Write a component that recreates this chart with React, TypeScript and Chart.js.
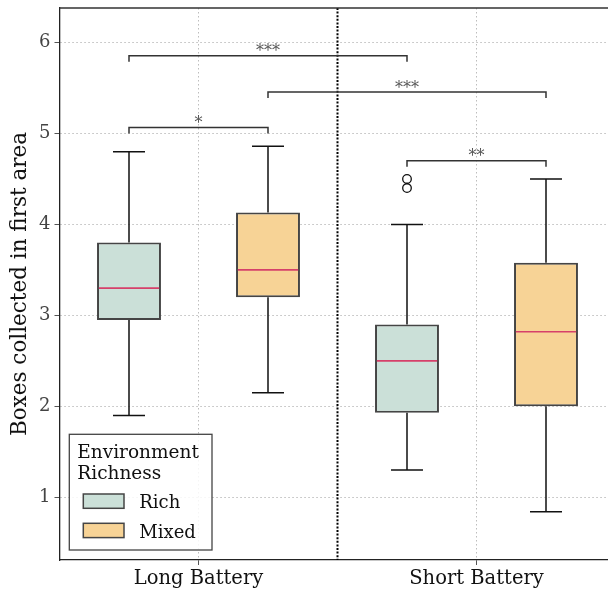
import React, { useEffect, useRef } from 'react';
import { Chart, registerables } from 'chart.js';

Chart.register(...registerables);

// ---------- data ----------
const categories = ['Long Battery', 'Short Battery'];
const seriesNames = ['Rich', 'Mixed'];

const richLow = [1.9, 1.3];
const richQ1 = [2.95, 1.93];
const richMedian = [3.3, 2.5];
const richQ3 = [3.8, 2.9];
const richHigh = [4.8, 4.0];
const richOutliers: number[][] = [[], [4.5, 4.4]];

const mixedLow = [2.15, 0.84];
const mixedQ1 = [3.2, 2.0];
const mixedMedian = [3.5, 2.82];
const mixedQ3 = [4.13, 3.58];
const mixedHigh = [4.86, 4.5];
const mixedOutliers: number[][] = [[], []];

const yTicks = [1, 2, 3, 4, 5, 6];
const yMin = 0.31;
const yMax = 6.38;

// significance brackets: [categoryIndex, seriesIndex]
const sigFrom = [[0, 0], [0, 0], [0, 1], [1, 0]];
const sigTo = [[0, 1], [1, 0], [1, 1], [1, 1]];
const sigLevel = [5.066, 5.855, 5.455, 4.7];
const sigLabel = ['*', '***', '***', '**'];

const separatorAt = 0.5;

const legendTitle = ['Environment', 'Richness'];

// ---------- styles ----------
const FONT = "'DejaVu Serif', serif";
const fills = ['#cbe0d8', '#f7d396'];
const boxEdge = '#454545';
const medianColor = '#d6406a';

const lows = [richLow, mixedLow];
const highs = [richHigh, mixedHigh];
const medians = [richMedian, mixedMedian];
const outliers = [richOutliers, mixedOutliers];

const extrasPlugin = {
  id: 'boxExtras',
  afterDatasetsDraw(chart: any) {
    const { ctx, chartArea } = chart;
    const ys = chart.scales.y;
    const xs = chart.scales.x;
    ctx.save();

    // separator
    const sx = xs.getPixelForValue(separatorAt);
    ctx.beginPath();
    ctx.setLineDash([2, 1.6]);
    ctx.strokeStyle = '#000';
    ctx.lineWidth = 2;
    ctx.moveTo(sx, chartArea.top);
    ctx.lineTo(sx, chartArea.bottom);
    ctx.stroke();
    ctx.setLineDash([]);

    // whiskers, caps, medians, outliers
    for (let d = 0; d < 2; d++) {
      const meta = chart.getDatasetMeta(d);
      meta.data.forEach((bar: any, j: number) => {
        const x = bar.x;
        const w = bar.width;
        const top = Math.min(bar.y, bar.base);
        const bot = Math.max(bar.y, bar.base);
        const yH = ys.getPixelForValue(highs[d][j]);
        const yL = ys.getPixelForValue(lows[d][j]);
        ctx.strokeStyle = '#111';
        ctx.lineWidth = 1.5;
        ctx.beginPath();
        ctx.moveTo(x, top);
        ctx.lineTo(x, yH);
        ctx.moveTo(x - w / 4, yH);
        ctx.lineTo(x + w / 4, yH);
        ctx.moveTo(x, bot);
        ctx.lineTo(x, yL);
        ctx.moveTo(x - w / 4, yL);
        ctx.lineTo(x + w / 4, yL);
        ctx.stroke();

        const yM = ys.getPixelForValue(medians[d][j]);
        ctx.strokeStyle = medianColor;
        ctx.lineWidth = 1.7;
        ctx.beginPath();
        ctx.moveTo(x - w / 2 + 1.8, yM);
        ctx.lineTo(x + w / 2 - 1.8, yM);
        ctx.stroke();

        ctx.strokeStyle = '#111';
        ctx.lineWidth = 1.3;
        outliers[d][j].forEach((v) => {
          ctx.beginPath();
          ctx.arc(x, ys.getPixelForValue(v), 4.3, 0, Math.PI * 2);
          ctx.stroke();
        });
      });
    }

    // significance brackets
    const drop = 0.066;
    for (let k = 0; k < sigLabel.length; k++) {
      const a = chart.getDatasetMeta(sigFrom[k][1]).data[sigFrom[k][0]];
      const b = chart.getDatasetMeta(sigTo[k][1]).data[sigTo[k][0]];
      const yT = ys.getPixelForValue(sigLevel[k]);
      const yB = ys.getPixelForValue(sigLevel[k] - drop);
      ctx.strokeStyle = '#333';
      ctx.lineWidth = 1.5;
      ctx.beginPath();
      ctx.moveTo(a.x, yB);
      ctx.lineTo(a.x, yT);
      ctx.lineTo(b.x, yT);
      ctx.lineTo(b.x, yB);
      ctx.stroke();
      ctx.fillStyle = '#555';
      ctx.font = `16px ${FONT}`;
      ctx.textAlign = 'center';
      ctx.textBaseline = 'alphabetic';
      ctx.fillText(sigLabel[k], (a.x + b.x) / 2, yT + 0.5);
    }
    ctx.restore();
  },
  afterDraw(chart: any) {
    const { ctx, chartArea } = chart;
    ctx.save();
    // top & right frame
    ctx.strokeStyle = '#333';
    ctx.lineWidth = 1.3;
    ctx.beginPath();
    ctx.moveTo(chartArea.left, chartArea.top);
    ctx.lineTo(chartArea.right, chartArea.top);
    ctx.lineTo(chartArea.right, chartArea.bottom);
    ctx.stroke();

    // legend
    const lx = chartArea.left + 9.8;
    const ly = chartArea.bottom - 125.7;
    const lw = 142.7;
    const lh = 115.7;
    ctx.fillStyle = 'rgba(255,255,255,0.85)';
    ctx.fillRect(lx, ly, lw, lh);
    ctx.strokeStyle = '#444';
    ctx.lineWidth = 1.3;
    ctx.strokeRect(lx, ly, lw, lh);
    ctx.fillStyle = '#111';
    ctx.font = `18.5px ${FONT}`;
    ctx.textAlign = 'left';
    ctx.textBaseline = 'alphabetic';
    legendTitle.forEach((t, i) => ctx.fillText(t, lx + 8, ly + 23.4 + i * 21.3));
    seriesNames.forEach((name, i) => {
      const sy = ly + 59.7 + i * 29.3;
      ctx.fillStyle = fills[i];
      ctx.fillRect(lx + 14, sy, 40.7, 14.3);
      ctx.strokeStyle = boxEdge;
      ctx.lineWidth = 1.5;
      ctx.strokeRect(lx + 14, sy, 40.7, 14.3);
      ctx.fillStyle = '#111';
      ctx.font = `18px ${FONT}`;
      ctx.fillText(name, lx + 70, sy + 14.3);
    });
    ctx.restore();
  },
};

export default function App() {
  const ref = useRef<HTMLCanvasElement | null>(null);
  useEffect(() => {
    if (!ref.current) return;
    Chart.defaults.font.family = FONT;
    const q1s = [richQ1, mixedQ1];
    const q3s = [richQ3, mixedQ3];
    const chart = new Chart(ref.current, {
      type: 'bar',
      data: {
        labels: categories,
        datasets: seriesNames.map((name, d) => ({
          label: name,
          data: categories.map((_, j) => [q1s[d][j], q3s[d][j]]) as any,
          backgroundColor: fills[d],
          borderColor: boxEdge,
          borderWidth: 2,
          borderSkipped: false,
          categoryPercentage: 1.0,
          barPercentage: 0.46,
        })),
      },
      options: {
        responsive: false,
        animation: false,
        layout: { padding: { left: 0, top: 8, right: 8.5, bottom: 0 } },
        plugins: { legend: { display: false }, tooltip: { enabled: false } },
        scales: {
          x: {
            offset: true,
            grid: {
              offset: false,
              color: '#bdbdbd',
              lineWidth: 1,
              tickLength: 5,
              tickColor: '#555',
            },
            border: { display: true, color: '#222', width: 1.3, dash: [1.5, 2.5] },
            ticks: { color: '#111', font: { size: 19.5 }, padding: 2 },
            afterFit: (s: any) => {
              s.height = 34;
              s.paddingLeft = 0;
              s.paddingRight = 0;
            },
          },
          y: {
            min: yMin,
            max: yMax,
            afterBuildTicks: (s: any) => {
              s.ticks = yTicks.map((v) => ({ value: v }));
            },
            grid: { color: '#bdbdbd', lineWidth: 1, tickLength: 5, tickColor: '#555' },
            border: { display: true, color: '#222', width: 1.3, dash: [1.5, 2.5] },
            ticks: { color: '#444', font: { size: 18 }, padding: 4 },
            title: {
              display: true,
              text: 'Boxes collected in first area',
              color: '#111',
              font: { size: 21.5 },
              padding: { top: 8, bottom: 0 },
            },
            afterFit: (s: any) => {
              s.width = 59.5;
              s.paddingTop = 0;
              s.paddingBottom = 0;
            },
          },
        },
      },
      plugins: [extrasPlugin],
    });
    return () => chart.destroy();
  }, []);
  return (
    <div style={{ position: 'absolute', left: 0, top: 0, width: 608, height: 594, overflow: 'hidden', background: '#fff' }}>
      <canvas ref={ref} width={624} height={594} style={{ width: 624, height: 594, display: 'block' }} />
    </div>
  );
}
